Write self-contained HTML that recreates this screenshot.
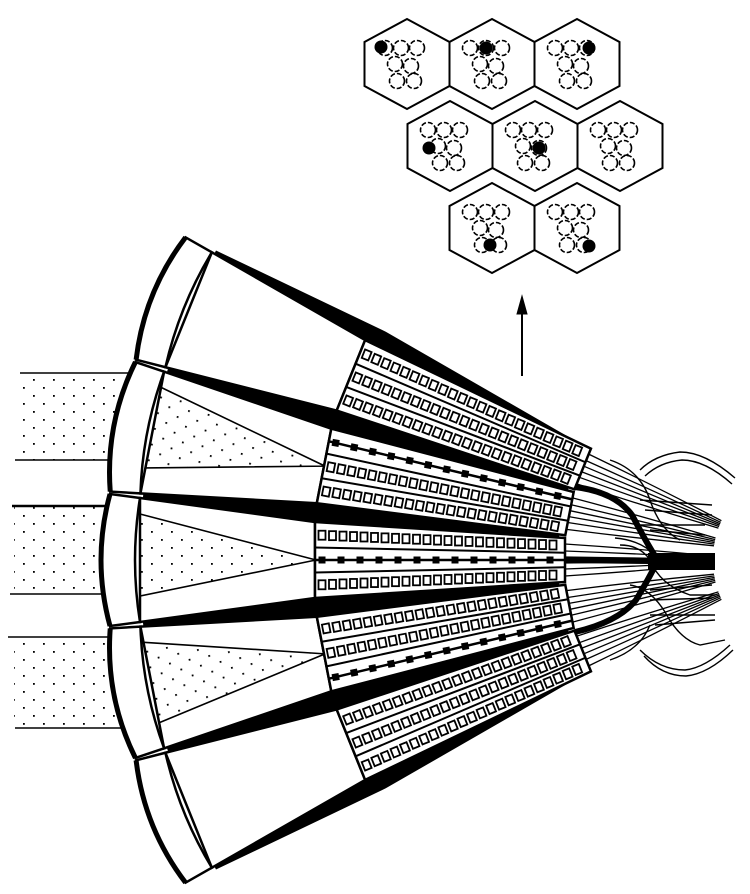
<!DOCTYPE html>
<html><head><meta charset="utf-8"><style>html,body{margin:0;padding:0;background:#fff}svg{display:block}</style></head>
<body>
<svg id="s" xmlns="http://www.w3.org/2000/svg" width="750" height="894" viewBox="0 0 750 894">
<defs>
<pattern id="st" width="20" height="16" patternUnits="userSpaceOnUse"><rect x="3" y="3" width="1.8" height="1.8" fill="#000"/><rect x="13" y="11" width="1.8" height="1.8" fill="#000"/></pattern>
</defs>
<g id="bands">
<rect x="18" y="373" width="120" height="87" fill="url(#st)"/>
<rect x="14" y="506" width="120" height="88" fill="url(#st)"/>
<rect x="14" y="637" width="120" height="91" fill="url(#st)"/>
<g stroke="#000" stroke-width="1.6">
<line x1="20" y1="373" x2="140" y2="373"/>
<line x1="15" y1="460" x2="130" y2="460"/>
<line x1="12" y1="506" x2="125" y2="506" stroke-width="2.5"/>
<line x1="10" y1="594" x2="125" y2="594"/>
<line x1="8" y1="637" x2="125" y2="637"/>
<line x1="15" y1="728" x2="130" y2="728"/>
</g>
</g>
<g id="main"></g>
<g id="hex"></g>
<g stroke="#000" fill="none">
<line x1="522" y1="376" x2="522" y2="310" stroke-width="2"/>
<polygon points="522,296 517,314 527,314" fill="#000"/>
</g>
</svg>
<script>
const NS="http://www.w3.org/2000/svg";
const P=[808,560];
function el(t,a,p){const e=document.createElementNS(NS,t);for(const k in a)e.setAttribute(k,a[k]);p.appendChild(e);return e;}
function polar(r,a){const t=a*Math.PI/180;return [(P[0]-r*Math.cos(t)).toFixed(1),(P[1]-r*Math.sin(t)).toFixed(1)];}
const main=document.getElementById('main');
let pts=[];
for(let a=27.6;a>=-27.6;a-=1)pts.push(polar(668,a));
pts.push(polar(668,-27.6));
pts.push(polar(480,-28.4));
for(let a=-27;a<=27;a+=1)pts.push(polar(250,a));
pts.push(polar(250,27));
pts.push(polar(480,28.4));
el('polygon',{points:pts.map(p=>p.join(',')).join(' '),fill:'#000'},main);
const A=[22,11,0,-11,-22];
const blackRow=[null,-1,0,1,null];
A.forEach((a,i)=>{
 const g=el('g',{transform:`translate(${P[0]},${P[1]}) rotate(${a})`},main);
 el('polygon',{points:'-668,-62 -493,-38 -493,38 -668,62',fill:'#fff',stroke:'#000','stroke-width':2.5},g);
 if(i>=1&&i<=3){
  el('polygon',{points:'-668,-46 -492,0 -668,36',fill:'url(#st)',stroke:'#000','stroke-width':1.6},g);
 }
 el('path',{d:'M-668,-62 L-698,-66 Q-716,0 -698,66 L-668,62 Q-678,0 -668,-62 Z',fill:'#fff',stroke:'#000','stroke-width':2.5},g);
 el('path',{d:'M-698,-66 Q-716,0 -698,66',fill:'none',stroke:'#000','stroke-width':5},g);
 el('polygon',{points:'-493,-38 -243,-22 -243,22 -493,38',fill:'#fff',stroke:'#000','stroke-width':2.5},g);
 const w=r=>22+(r-243)/250*16;
 [-1,1].forEach(s=>{
  el('line',{x1:-493,y1:s*38*0.33,x2:-243,y2:s*22*0.33,stroke:'#000','stroke-width':2},g);
 });
 [-1,0,1].forEach(k=>{
  const blk=blackRow[i]===k;
  const step=blk?19:10.5;
  for(let r=486;r>250;r-=step){
   const y=k*w(r)*0.66;
   if(blk)el('rect',{x:-r-3.5,y:y-3.5,width:7,height:7,fill:'#000'},g);
   else el('rect',{x:-r-3.5,y:y-4.5,width:7,height:9,fill:'none',stroke:'#000','stroke-width':1.8},g);
  }
  if(blk)el('line',{x1:-493,y1:k*38*0.66,x2:-243,y2:k*22*0.66,stroke:'#000','stroke-width':2.5},g);
 });
 [-16,-9,-3,3,9,16].forEach(y0=>{
  el('path',{d:`M-243,${y0} Q-170,${y0*0.7} -95,${y0*0.25}`,fill:'none',stroke:'#000','stroke-width':1.3},g);
 });
});
const ov=el('g',{fill:'none',stroke:'#000'},main);
el('path',{d:'M565,560 L650,561','stroke-width':6},ov);
el('rect',{x:648,y:553,width:67,height:17,fill:'#000',stroke:'none'},ov);
el('path',{d:'M575,487 Q615,492 632,515 Q645,540 655,556','stroke-width':6},ov);
el('path',{d:'M575,632 Q618,622 636,600 Q648,580 655,566','stroke-width':6},ov);
const wv=[
 'M640,470 Q655,455 680,452 Q705,452 735,478',
 'M645,476 Q660,462 682,460 Q705,460 732,484',
 'M620,545 Q640,545 650,560 Q660,585 690,595 L715,595',
 'M615,538 Q640,540 655,555',
 'M630,585 Q650,588 665,612 Q680,640 700,645 L725,640',
 'M640,650 Q660,670 685,670 Q705,668 730,645',
 'M644,656 Q662,676 686,676 Q708,674 733,650',
 'M640,500 L712,505','M645,510 L712,515','M640,525 L705,525','M650,530 L705,535',
 'M650,590 L712,585','M650,600 L712,598','M650,615 L715,615','M655,625 L715,620',
 'M610,460 Q640,470 650,500 Q660,530 680,540','M610,660 Q640,650 650,625'
];
wv.forEach(d=>el('path',{d,'stroke-width':1.4},ov));
const hex=document.getElementById('hex');
const centers=[[407,64],[492,64],[577,64],[450,146],[535,146],[620,146],[492,228],[577,228]];
const circ=[[-22,-16],[-6,-16],[10,-16],[-12,0],[4,2],[-10,17],[7,17]];
const blkOff=[[-26,-17],[-6,-16],[12,-16],[-21,2],[4,2],[0,0],[-2,17],[12,18]];
centers.forEach(([cx,cy],j)=>{
 const h=42.5,t=45,s=22;
 el('polygon',{points:`${cx},${cy-t} ${cx+h},${cy-s} ${cx+h},${cy+s} ${cx},${cy+t} ${cx-h},${cy+s} ${cx-h},${cy-s}`,fill:'#fff',stroke:'#000','stroke-width':2},hex);
 circ.forEach(([dx,dy])=>el('circle',{cx:cx+dx,cy:cy+dy,r:7.5,fill:'none',stroke:'#000','stroke-width':1.6,'stroke-dasharray':'5 2'},hex));
 if(j!==5){const [dx,dy]=blkOff[j];el('circle',{cx:cx+dx,cy:cy+dy,r:6.5,fill:'#000'},hex);}
});
</script>
</body></html>
